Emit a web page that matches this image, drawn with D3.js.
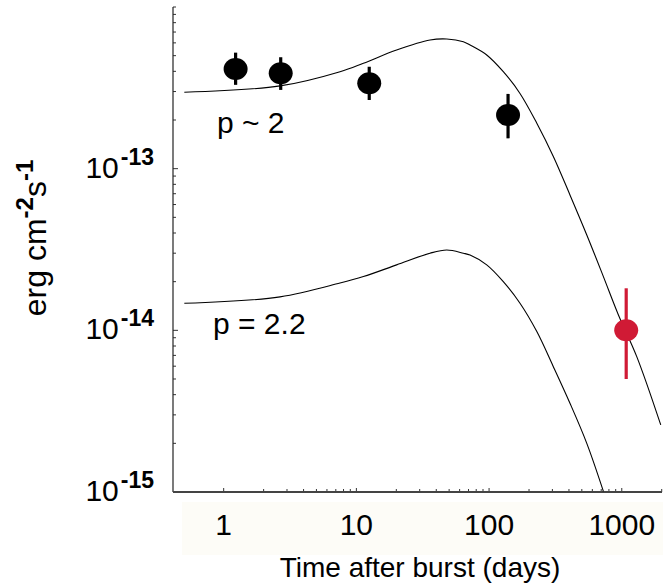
<!DOCTYPE html>
<html>
<head>
<meta charset="utf-8">
<script src="https://cdn.jsdelivr.net/npm/d3@7"></script>
<style>
  body { margin: 0; background: #fff; }
  text { font-family: Arial, "Liberation Sans", sans-serif; fill: #000; }
</style>
</head>
<body>
<div id="lightcurve"></div>
<script>
// afterglow measurements (days, erg cm-2 s-1)
var pointDays = [1.23, 2.69, 12.5, 139];
var pointFlux = [4.14e-13, 3.89e-13, 3.38e-13, 2.15e-13];
var pointLow  = [3.30e-13, 3.07e-13, 2.66e-13, 1.54e-13];
var pointHigh = [5.22e-13, 4.89e-13, 4.27e-13, 2.90e-13];

// late detection (red)
var lateDays = [1080];
var lateFlux = [1.0e-14];
var lateLow  = [5.0e-15];
var lateHigh = [1.82e-14];

// model curves
var upperDays = [0.505, 2.66, 7.53, 11.3, 20.1, 35.9, 48.0, 64.0, 71.9, 96.0, 128, 171, 229, 305, 407, 545, 727, 942, 1297, 1967];
var upperFlux = [2.97e-13, 3.25e-13, 3.98e-13, 4.49e-13, 5.42e-13, 6.25e-13, 6.34e-13, 6.10e-13, 5.82e-13, 5.05e-13, 3.98e-13, 2.92e-13, 1.91e-13, 1.19e-13, 6.88e-14, 3.89e-14, 2.15e-14, 1.25e-14, 6.88e-15, 2.60e-15];
var lowerDays = [0.505, 2.66, 7.53, 11.3, 20.1, 35.9, 48.0, 64.0, 71.9, 96.0, 128, 171, 229, 305, 407, 545, 727];
var lowerFlux = [1.47e-14, 1.61e-14, 1.96e-14, 2.15e-14, 2.54e-14, 3.00e-14, 3.14e-14, 3.00e-14, 2.92e-14, 2.54e-14, 2.00e-14, 1.47e-14, 9.82e-15, 5.96e-15, 3.54e-15, 2.00e-15, 1.01e-15];

var xTicks = [1, 10, 100, 1000];
var yTicks = [1e-13, 1e-14, 1e-15];
var yExp = ["-13", "-14", "-15"];

var width = 667, height = 585;
var plotLeft = 173, plotRight = 662, plotTop = 7, plotBottom = 492;

var svg = d3.select("#lightcurve")
  .append("svg")
    .attr("width", width)
    .attr("height", height);

var x = d3.scaleLog()
  .domain([0.415, 2010])
  .range([plotLeft, plotRight]);

var y = d3.scaleLog()
  .domain([1e-15, 1e-12])
  .range([plotBottom, plotTop]);

// faint strip behind the x tick labels
svg.append("rect")
  .attr("x", 182).attr("y", 502)
  .attr("width", 481).attr("height", 53)
  .attr("fill", "#fdfcf7");

svg.append("clipPath").attr("id", "plot")
  .append("rect")
    .attr("x", plotLeft).attr("y", plotTop)
    .attr("width", plotRight - plotLeft).attr("height", plotBottom - plotTop);

// minor + major ticks, pointing inwards
var xMinor = x.ticks().filter(function(d) { return d >= 1; });
svg.append("g")
  .selectAll("line")
  .data(xMinor)
  .enter().append("line")
    .attr("x1", function(d) { return x(d); })
    .attr("x2", function(d) { return x(d); })
    .attr("y1", plotBottom)
    .attr("y2", function(d) { return xTicks.indexOf(d) >= 0 ? plotBottom - 4 : plotBottom - 3; })
    .attr("stroke", "#333")
    .attr("stroke-width", 1);

var yMinor = y.ticks();
svg.append("g")
  .selectAll("line")
  .data(yMinor)
  .enter().append("line")
    .attr("x1", plotLeft)
    .attr("x2", function(d) { return yTicks.indexOf(d) >= 0 ? plotLeft + 5 : plotLeft + 3; })
    .attr("y1", function(d) { return y(d); })
    .attr("y2", function(d) { return y(d); })
    .attr("stroke", "#333")
    .attr("stroke-width", 1);

// axis lines
svg.append("line")
  .attr("x1", plotLeft).attr("x2", plotLeft)
  .attr("y1", plotTop).attr("y2", plotBottom)
  .attr("stroke", "#222").attr("stroke-width", 1.2);
svg.append("line")
  .attr("x1", plotLeft).attr("x2", plotRight)
  .attr("y1", plotBottom).attr("y2", plotBottom)
  .attr("stroke", "#444").attr("stroke-width", 1.8);

// x tick labels
svg.append("g")
  .selectAll("text")
  .data(xTicks)
  .enter().append("text")
    .attr("x", function(d) { return x(d); })
    .attr("y", 535)
    .attr("text-anchor", "middle")
    .style("font-size", "30px")
    .text(function(d) { return d; });

// y tick labels, 10 with bold exponent
var ylab = svg.append("g")
  .selectAll("text")
  .data(yTicks)
  .enter().append("text")
    .attr("x", 154)
    .attr("y", function(d) { return y(d) + 9; })
    .attr("text-anchor", "end")
    .style("font-size", "30px");
ylab.append("tspan").text("10");
ylab.append("tspan")
  .attr("dx", 2)
  .attr("dy", -13)
  .style("font-size", "23px")
  .style("font-weight", "bold")
  .text(function(d, i) { return yExp[i]; });

// axis titles
svg.append("text")
  .attr("x", 420)
  .attr("y", 577)
  .attr("text-anchor", "middle")
  .style("font-size", "28px")
  .text("Time after burst (days)");

var ytitle = svg.append("text")
  .attr("transform", "translate(46,238) rotate(-90)")
  .attr("text-anchor", "middle")
  .style("font-size", "32px");
ytitle.append("tspan").text("erg cm");
ytitle.append("tspan").attr("dy", -13).style("font-size", "24px").style("font-weight", "bold").text("-2");
ytitle.append("tspan").attr("dy", 13).text("s");
ytitle.append("tspan").attr("dy", -13).style("font-size", "24px").style("font-weight", "bold").text("-1");

// model curves
var line = d3.line()
  .x(function(d) { return x(d[0]); })
  .y(function(d) { return y(d[1]); })
  .curve(d3.curveCatmullRom.alpha(0.5));

var curves = svg.append("g").attr("clip-path", "url(#plot)");
curves.append("path")
  .datum(d3.zip(upperDays, upperFlux))
  .attr("d", line)
  .attr("fill", "none")
  .attr("stroke", "#000")
  .attr("stroke-width", 1.1);
curves.append("path")
  .datum(d3.zip(lowerDays, lowerFlux))
  .attr("d", line)
  .attr("fill", "none")
  .attr("stroke", "#000")
  .attr("stroke-width", 1.1);

svg.append("text")
  .attr("x", 217).attr("y", 133)
  .style("font-size", "30px")
  .text("p ~ 2");
svg.append("text")
  .attr("x", 213).attr("y", 334)
  .style("font-size", "30px")
  .text("p = 2.2");

// data points with error bars
function drawPoints(days, flux, lo, hi, color) {
  var g = svg.append("g")
    .selectAll("g")
    .data(days)
    .enter().append("g");
  g.append("line")
    .attr("x1", function(d) { return x(d); })
    .attr("x2", function(d) { return x(d); })
    .attr("y1", function(d, i) { return y(hi[i]); })
    .attr("y2", function(d, i) { return y(lo[i]); })
    .attr("stroke", color)
    .attr("stroke-width", 3.2);
  g.append("ellipse")
    .attr("cx", function(d) { return x(d); })
    .attr("cy", function(d, i) { return y(flux[i]); })
    .attr("rx", 12)
    .attr("ry", 11)
    .attr("fill", color);
}

drawPoints(pointDays, pointFlux, pointLow, pointHigh, "#000");
drawPoints(lateDays, lateFlux, lateLow, lateHigh, "#d01a35");
</script>
</body>
</html>
